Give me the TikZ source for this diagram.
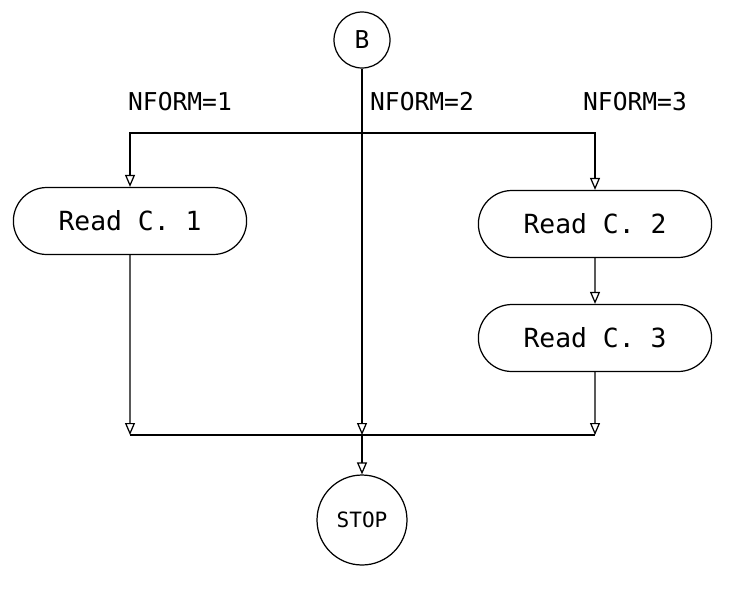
\documentclass[tikz,border=0pt]{standalone}
\usepackage{fontspec}
\setmonofont{DejaVu Sans Mono}
\usetikzlibrary{arrows.meta,positioning,shapes.misc}
\tikzset{
  termnode/.style={circle, draw, line width=0.7pt, inner sep=0pt,
    font=\ttfamily\fontsize{14}{16}\selectfont},
  readbox/.style={rounded rectangle, draw, line width=0.7pt,
    minimum width=4.9cm, minimum height=1.34cm,
    font=\ttfamily\fontsize{15}{18}\selectfont},
  caselabel/.style={font=\ttfamily\fontsize{14}{16}\selectfont},
  flowline/.style={line width=0.7pt},
  arr/.style={flowline, -{Triangle[open, length=2.4mm, width=2mm]}}
}
\begin{document}
\begin{tikzpicture}[x=0.02cm, y=-0.02cm]
        \useasboundingbox (0,0) rectangle (746,592);
        \node[termnode, minimum size=1.12cm] (B) at (362,40) {B};
        \node[termnode, minimum size=1.8cm, font=\ttfamily\fontsize{12}{14}\selectfont] (stop) at (362,520) {STOP};
        \node[readbox] (read1) at (130,221) {Read C. 1};
        \node[readbox] (read2) at (595,224) {Read C. 2};
        \node[readbox] (read3) at (595,338) {Read C. 3};
        \node[caselabel] (case1) at (180,102) {NFORM=1};
        \node[caselabel] (case2) at (422,102) {NFORM=2};
        \node[caselabel] (case3) at (635,102) {NFORM=3};
        \coordinate (fork) at (362,133);
        \coordinate (join) at (362,435);
        \coordinate (joinL) at (read1 |- join);
        \coordinate (joinR) at (read3 |- join);
        % branches
        \draw[arr] (fork) -| (read1);
        \draw[arr] (fork) -| (read2);
        \draw[arr] (read2) -- (read3);
        % merge
        \draw[arr] (read1) -- (joinL);
        \draw[arr] (read3) -- (joinR);
        \draw[flowline] (joinL) -- (joinR);
        \draw[arr] (B) -- (join);
        \draw[arr] (join) -- (stop);
      \end{tikzpicture}
\end{document}
